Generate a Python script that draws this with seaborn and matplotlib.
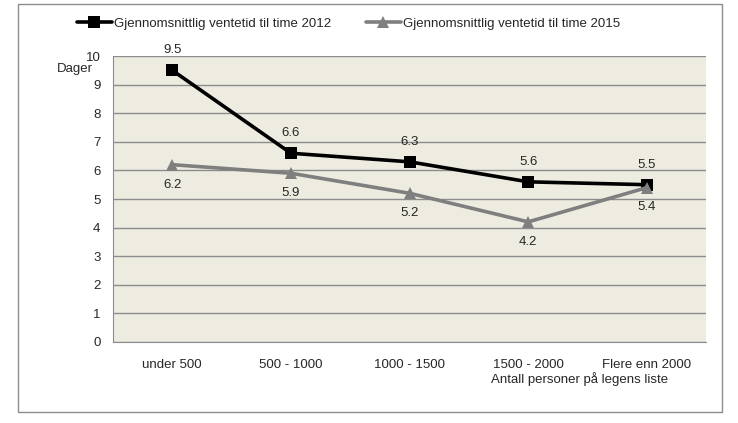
import matplotlib
matplotlib.use('Agg')
import matplotlib.pyplot as plt
import seaborn as sns
import pandas as pd
from matplotlib.patches import Rectangle
from matplotlib.ticker import FixedLocator

# data
kategorier = ['under 500', '500 - 1000', '1000 - 1500', '1500 - 2000', 'Flere enn 2000']
ventetid_2012 = [9.5, 6.6, 6.3, 5.6, 5.5]
ventetid_2015 = [6.2, 5.9, 5.2, 4.2, 5.4]
navn_2012 = 'Gjennomsnittlig ventetid til time 2012'
navn_2015 = 'Gjennomsnittlig ventetid til time 2015'

df = pd.DataFrame({
    'pos': list(range(len(kategorier))) * 2,
    'dager': ventetid_2012 + ventetid_2015,
    'serie': [navn_2012] * 5 + [navn_2015] * 5,
})

sns.set_style('white')
plt.rcParams['font.family'] = ['Liberation Sans', 'DejaVu Sans']

fig = plt.figure(figsize=(7.38, 4.23), dpi=100)
ax = fig.add_axes([0.153, 0.1915, 0.804, 0.6761])
ax.set_facecolor('#EEECE1')

farger = {navn_2012: 'black', navn_2015: '#7F7F7F'}
sns.lineplot(data=df, x='pos', y='dager', hue='serie', style='serie',
             markers={navn_2012: 's', navn_2015: '^'}, dashes=False,
             palette=farger, linewidth=2.6, markersize=9, markeredgewidth=0,
             ax=ax, legend=False)

ax.set_xlim(-0.5, 4.5)
ax.set_ylim(0, 10)
ax.set_yticks(range(0, 11))
ax.yaxis.grid(True, color='#8C8C8C', linewidth=1)
ax.set_axisbelow(True)
ax.set_xticks(range(5))
ax.set_xticklabels(kategorier, fontsize=9.5)
ax.xaxis.set_minor_locator(FixedLocator([-0.5, 0.5, 1.5, 2.5, 3.5, 4.5]))
ax.tick_params(axis='x', which='major', length=0, pad=12)
ax.tick_params(axis='x', which='minor', length=5, color='#8C8C8C', direction='out')
ax.tick_params(axis='y', length=5, color='#8C8C8C', direction='out', labelsize=9.5, pad=4)
for s in ['top', 'right']:
    ax.spines[s].set_visible(False)
for s in ['left', 'bottom']:
    ax.spines[s].set_color('#8C8C8C')
ax.set_xlabel('')
ax.set_ylabel('')

# verdier
for i, v in enumerate(ventetid_2012):
    ax.annotate(f'{v}', (i, v), xytext=(0, 10), textcoords='offset points',
                ha='center', va='bottom', fontsize=9.5)
for i, v in enumerate(ventetid_2015):
    ax.annotate(f'{v}', (i, v), xytext=(0, -10), textcoords='offset points',
                ha='center', va='top', fontsize=9.5)

fig.text(75 / 738, 1 - 69 / 423, 'Dager', ha='center', va='center', fontsize=9.5)
fig.text(580 / 738, 1 - 379 / 423, 'Antall personer på legens liste', ha='center',
         va='center', fontsize=9.5)

# legend
handles = [plt.Line2D([], [], color='black', marker='s', lw=2.6, markersize=9, markeredgewidth=0),
           plt.Line2D([], [], color='#7F7F7F', marker='^', lw=2.6, markersize=9, markeredgewidth=0)]
fig.legend(handles, [navn_2012, navn_2015], loc='center left',
           bbox_to_anchor=(72 / 738, 1 - 24 / 423), borderaxespad=0,
           ncol=2, frameon=False, fontsize=9.5, handlelength=2.6, handletextpad=0.15,
           columnspacing=2.7)

fig.patches.append(Rectangle((18 / 738, 1 - 412 / 423), (722 - 18) / 738, (412 - 4) / 423,
                             transform=fig.transFigure, fill=False, edgecolor='#8C8C8C', lw=1))

fig.savefig('out.png', dpi=100)
